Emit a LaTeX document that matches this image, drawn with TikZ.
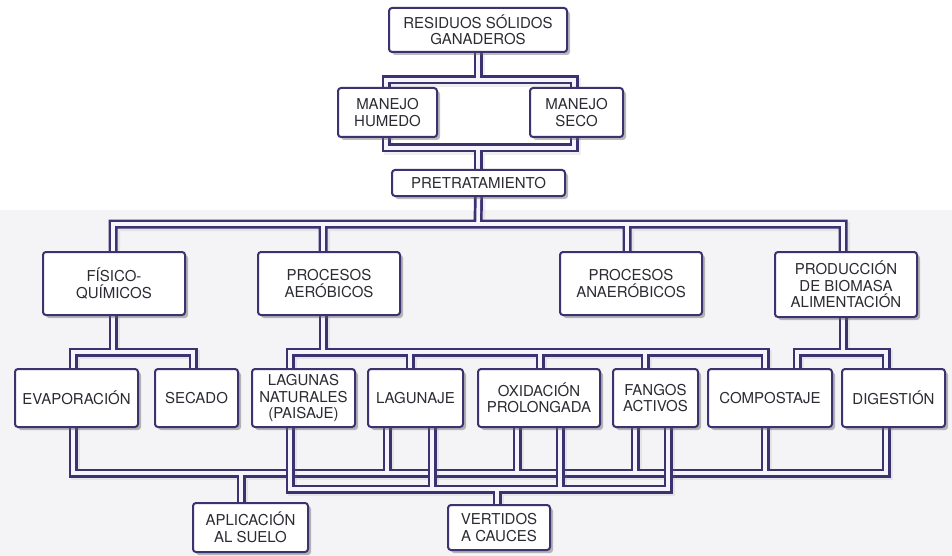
\documentclass[tikz,border=0pt]{standalone}
\usepackage{fontspec}
\setmainfont{TeX Gyre Heros}
\usetikzlibrary{backgrounds}
\definecolor{pipec}{HTML}{3B3270}
\definecolor{pipeinc}{HTML}{F6F4FC}
\definecolor{txtc}{HTML}{2B2B33}
\definecolor{bgc}{HTML}{F4F4F6}
\newcommand\pipe[1]{%
  \draw[pipesh] #1;
  \draw[pipeout] #1;
  \draw[pipein] #1;}
\begin{document}
\begin{tikzpicture}[x=1pt,y=-1pt,
  box/.style={draw=pipec, line width=2pt, rounded corners=3pt, fill=white,
    align=center, inner sep=0pt, text=txtc,
    font=\fontsize{15}{16.5}\selectfont,
    preaction={fill=black!60, opacity=.45,
      transform canvas={xshift=3pt,yshift=-3pt}}},
  pipeout/.style={draw=pipec, line width=9pt, line join=miter},
  pipein/.style={draw=pipeinc, line width=3.6pt, line join=miter},
  pipesh/.style={draw=black!45, line width=9pt, opacity=.15,
    transform canvas={xshift=2.5pt,yshift=-2.5pt}}]
\useasboundingbox (0,0) rectangle (952,556);

% level 0/1
\node[box, minimum width=178pt, minimum height=44pt] (res) at (478,30) {RESIDUOS SÓLIDOS\\GANADEROS};
\node[box, minimum width=99pt, minimum height=49pt] (hum) at (387.5,112.5) {MANEJO\\HUMEDO};
\node[box, minimum width=93pt, minimum height=49pt] (seco) at (576.5,112.5) {MANEJO\\SECO};
\node[box, minimum width=173pt, minimum height=26pt] (pre) at (478.5,183) {PRETRATAMIENTO};
% level 2
\node[box, minimum width=142pt, minimum height=63pt] (fis) at (114,283.5) {FÍSICO-\\QUÍMICOS};
\node[box, minimum width=142pt, minimum height=63pt] (aer) at (329,283.5) {PROCESOS\\AERÓBICOS};
\node[box, minimum width=142pt, minimum height=63pt] (ana) at (631,283.5) {PROCESOS\\ANAERÓBICOS};
\node[box, minimum width=142pt, minimum height=65pt] (prod) at (846,284.5) {PRODUCCIÓN\\DE BIOMASA\\ALIMENTACIÓN};
% level 3
\node[box, minimum width=123pt, minimum height=58pt] (eva) at (76.5,398) {EVAPORACIÓN};
\node[box, minimum width=83pt, minimum height=58pt] (sec) at (196.5,398) {SECADO};
\node[box, minimum width=103pt, minimum height=58pt] (lnat) at (303.5,398) {LAGUNAS\\NATURALES\\(PAISAJE)};
\node[box, minimum width=95pt, minimum height=58pt] (lag) at (415.5,398) {LAGUNAJE};
\node[box, minimum width=122pt, minimum height=58pt] (oxi) at (539,398) {OXIDACIÓN\\PROLONGADA};
\node[box, minimum width=85pt, minimum height=58pt] (fan) at (655.5,398) {FANGOS\\ACTIVOS};
\node[box, minimum width=124pt, minimum height=58pt] (com) at (770,398) {COMPOSTAJE};
\node[box, minimum width=103pt, minimum height=58pt] (dig) at (893.5,398) {DIGESTIÓN};
% level 4
\node[box, minimum width=115pt, minimum height=49pt] (apl) at (250.5,527.5) {APLICACIÓN\\AL SUELO};
\node[box, minimum width=102pt, minimum height=45pt] (ver) at (499,527.5) {VERTIDOS\\A CAUCES};

\begin{pgfonlayer}{background}
\fill[bgc] (0,210) rectangle (952,556);
% top loop
\pipe{(res.south) -- (478,80) (386,80) -- (574,80) -- (574,148) -- (386,148) -- cycle (478,148) -- (478,172)}
% level 2 bus
\pipe{(pre.south) -- (478,224) (113,262) -- (113,224) -- (843,224) -- (843,262) (323,224) -- (323,262) (627,224) -- (627,262)}
% level 3 buses
\pipe{(113,300) -- (113,352) (73,385) -- (73,352) -- (193,352) -- (193,385)
      (323,300) -- (323,352) (290,385) -- (290,352) -- (765,352) -- (765,385)
      (410,352) -- (410,385) (540,352) -- (540,385) (645,352) -- (645,385)
      (843,300) -- (843,352) (797,385) -- (797,352) -- (886,352) -- (886,385)}
% bus A (to soil)
\pipe{(73,415) -- (73,473) -- (886,473) -- (886,415)
      (387,415) -- (387,473) (517,415) -- (517,473) (635,415) -- (635,473)
      (765,415) -- (765,473) (241,473) -- (241,508)}
% bus B (to rivers)
\pipe{(290,400) -- (290,489) -- (668,489) -- (668,415)
      (432,415) -- (432,489) (560,415) -- (560,489) (497,489) -- (497,508)}
\end{pgfonlayer}
\end{tikzpicture}
\end{document}
